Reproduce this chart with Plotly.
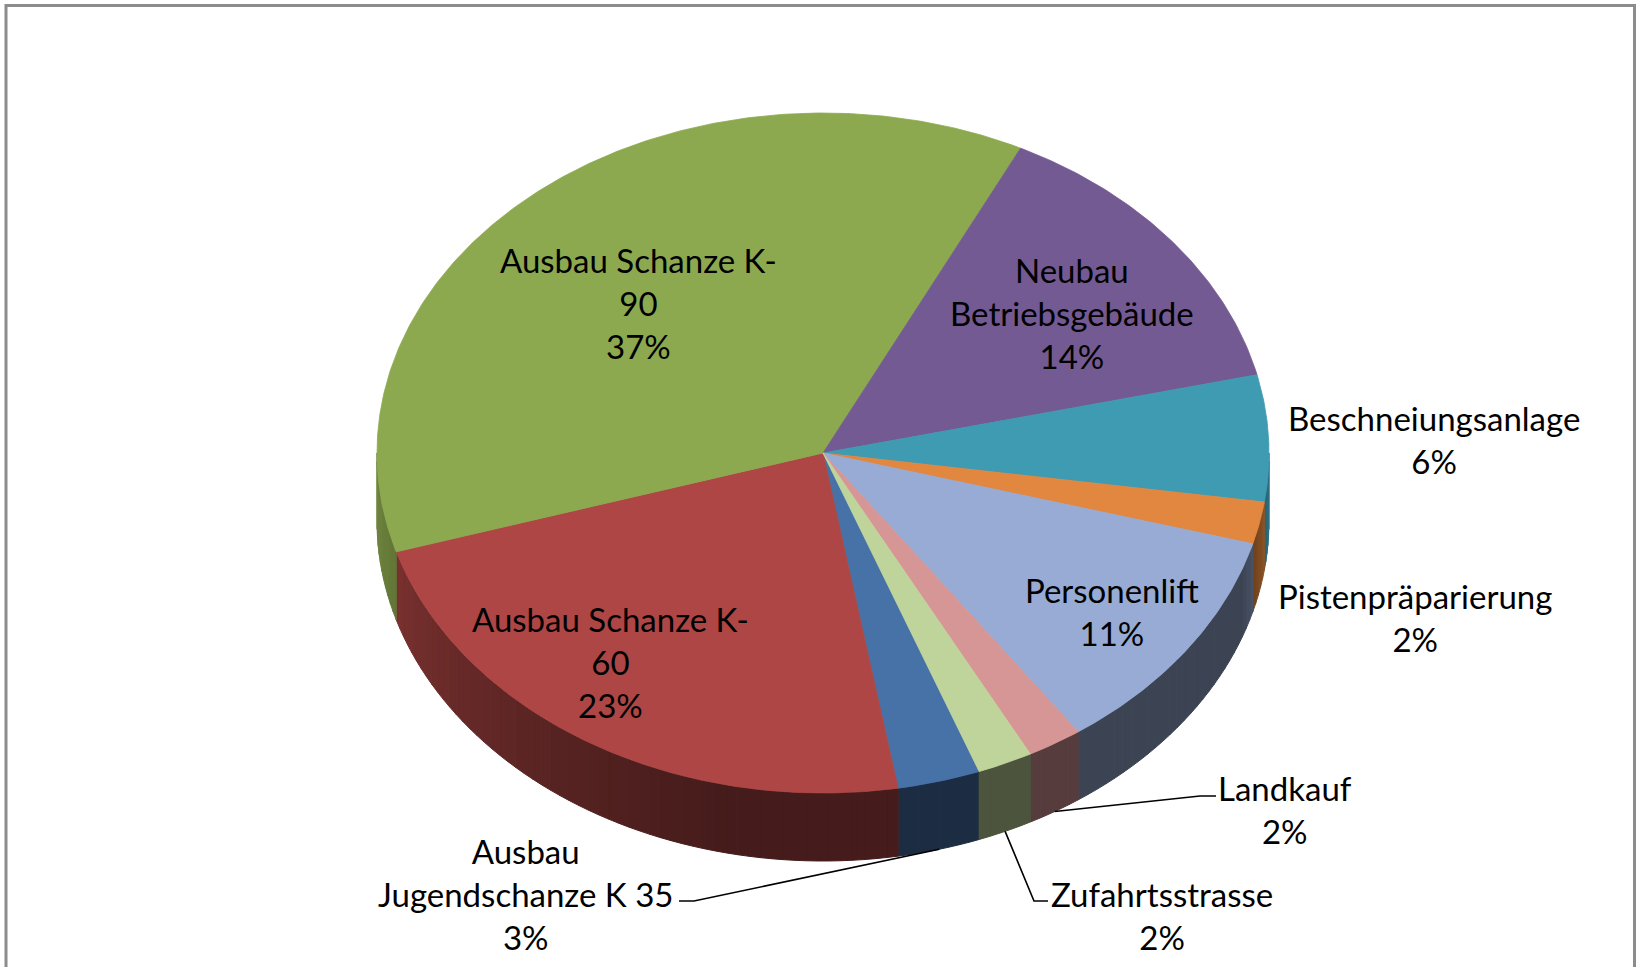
import numpy as np
import plotly.graph_objects as go

# ---------------- data ----------------
categories = ["Ausbau Jugendschanze K 35", "Ausbau Schanze K-60", "Ausbau Schanze K-90",
              "Neubau Betriebsgebäude", "Beschneiungsanlage", "Pistenpräparierung",
              "Personenlift", "Landkauf", "Zufahrtsstrasse"]
values = [3, 23, 37, 14, 6, 2, 11, 2, 2]
label_lines = [["Ausbau", "Jugendschanze K 35"], ["Ausbau Schanze K-", "60"],
               ["Ausbau Schanze K-", "90"], ["Neubau", "Betriebsgebäude"],
               ["Beschneiungsanlage"], ["Pistenpräparierung"], ["Personenlift"],
               ["Landkauf"], ["Zufahrtsstrasse"]]
colors = ["#4672A8", "#AD4644", "#8CA94F", "#735A92", "#3F9BB2",
          "#E2873F", "#97ABD4", "#D79696", "#BFD49B"]

# ---------------- layout / geometry (pixels) ----------------
W, H = 1637, 967
CX, CY, RX, RY, DEPTH = 823, 453, 446, 340, 68
START = 159.5  # first slice angle, degrees clockwise from top

label_pos = {
    "Ausbau Jugendschanze K 35": (525, 894),
    "Ausbau Schanze K-60": (610, 662),
    "Ausbau Schanze K-90": (638, 303),
    "Neubau Betriebsgebäude": (1072, 313),
    "Beschneiungsanlage": (1434, 439),
    "Pistenpräparierung": (1415, 617),
    "Personenlift": (1112, 611),
    "Landkauf": (1285, 809),
    "Zufahrtsstrasse": (1162, 915),
}
leader_path = {
    "Landkauf": [(1200, 796), (1216, 796)],
    "Zufahrtsstrasse": [(1034, 901), (1048, 901)],
    "Ausbau Jugendschanze K 35": [(694, 901), (679, 901)],
}


def pt(theta, dy=0.0):
    t = np.radians(theta)
    return CX + RX * np.sin(t), CY - RY * np.cos(t) + dy


def shade(hexcol, f):
    r, g, b = int(hexcol[1:3], 16), int(hexcol[3:5], 16), int(hexcol[5:7], 16)
    return "rgb(%d,%d,%d)" % (min(255, r * f), min(255, g * f), min(255, b * f))


def side_factor(theta):
    a = theta % 360
    f = 0.40
    if a > 190:
        f += 0.40 * min(1.0, (a - 190) / 80) ** 1.2
    if a < 110:
        f += 0.40 * (110 - a) / 20
    return f


fig = go.Figure()

total = float(sum(values))
bounds = []
acc = START
for v in values:
    a0 = acc
    a1 = acc + v / total * 360.0
    bounds.append((a0, a1))
    acc = a1

# ---------- side walls (front half) ----------
for i, (a0, a1) in enumerate(bounds):
    for lo, hi in ((90, 270), (450, 630)):
        s0, s1 = max(a0, lo), min(a1, hi)
        if s1 <= s0:
            continue
        n = max(1, int(np.ceil((s1 - s0) / 1.5)))
        edges = np.linspace(s0, s1, n + 1)
        for k in range(n):
            t = np.linspace(edges[k], edges[k + 1], 4)
            xt, yt = pt(t)
            xb, yb = pt(t[::-1], DEPTH)
            col = shade(colors[i], side_factor((edges[k] + edges[k + 1]) / 2))
            fig.add_trace(go.Scatter(
                x=np.concatenate([xt, xb, xt[:1]]), y=np.concatenate([yt, yb, yt[:1]]),
                mode="lines", fill="toself", fillcolor=col,
                line=dict(color=col, width=1), hoverinfo="skip", showlegend=False))

# ---------- top faces ----------
for i, (a0, a1) in enumerate(bounds):
    t = np.linspace(a0, a1, max(3, int((a1 - a0) * 2)))
    xs, ys = pt(t)
    x = np.concatenate([[CX], xs, [CX]])
    y = np.concatenate([[CY], ys, [CY]])
    fig.add_trace(go.Scatter(
        x=x, y=y, mode="lines", fill="toself", fillcolor=colors[i],
        line=dict(color=colors[i], width=0.8), hoverinfo="skip",
        name=categories[i], showlegend=False))

# ---------- leader lines ----------
for i, cat in enumerate(categories):
    path = leader_path.get(cat)
    if not path:
        continue
    mid = (bounds[i][0] + bounds[i][1]) / 2
    sx, sy = pt(mid, DEPTH)
    xs = [float(sx)] + [p[0] for p in path]
    ys = [float(sy)] + [p[1] for p in path]
    fig.add_trace(go.Scatter(x=xs, y=ys, mode="lines",
                             line=dict(color="black", width=1.6),
                             hoverinfo="skip", showlegend=False))

# ---------- labels ----------
annotations = []
for i, cat in enumerate(categories):
    pct = "%d%%" % round(values[i] / total * 100)
    text = "<br>".join(label_lines[i] + [pct])
    x, y = label_pos[cat]
    annotations.append(dict(x=x, y=y, xref="x", yref="y", text=text, showarrow=False,
                            font=dict(family="Lato", size=33, color="black"),
                            align="center", xanchor="center", yanchor="middle"))

fig.update_layout(
    width=W, height=H,
    margin=dict(l=0, r=0, t=0, b=0),
    paper_bgcolor="white", plot_bgcolor="white",
    xaxis=dict(range=[0, W], visible=False, fixedrange=True),
    yaxis=dict(range=[H, 0], visible=False, fixedrange=True),
    annotations=annotations,
    shapes=[dict(type="rect", xref="x", yref="y", x0=6, y0=5.5, x1=1634.5, y1=H + 20,
                 line=dict(color="#8c8c8c", width=3), layer="below")],
    showlegend=False,
)

fig.write_html("out.html", config={"displayModeBar": False},
               post_script="document.body.style.margin='0';document.body.style.overflow='hidden';")
